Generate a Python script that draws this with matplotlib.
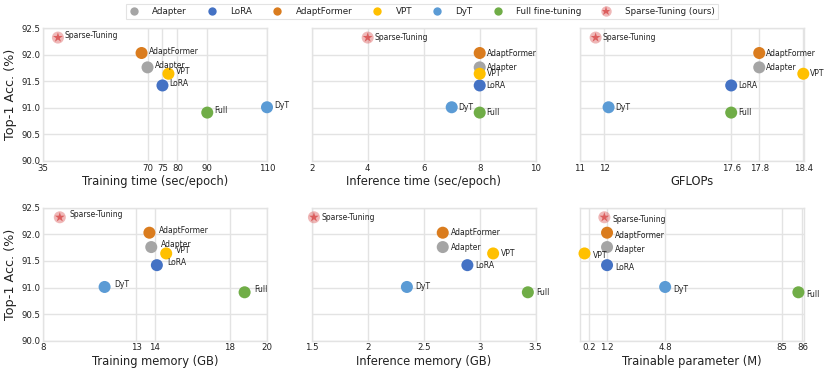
import numpy as np
import matplotlib
matplotlib.use("Agg")
import matplotlib.pyplot as plt
from matplotlib.lines import Line2D

plt.rcParams['font.family'] = ['DejaVu Sans']

methods = ["Adapter", "LoRA", "AdaptFormer", "VPT", "DyT", "Full", "Sparse-Tuning"]
legend_names = ["Adapter", "LoRA", "AdaptFormer", "VPT", "DyT", "Full fine-tuning", "Sparse-Tuning (ours)"]
point_labels = ["Adapter", "LoRA", "AdaptFormer", "VPT", "DyT", "Full", "Sparse-Tuning"]
colors = ["#A5A5A5", "#4472C4", "#DA7C1E", "#FFC000", "#5B9BD5", "#70AD47", "#D94F4F"]

acc = [91.76, 91.42, 92.03, 91.64, 91.01, 90.91, 92.32]

train_time = [70, 75, 68, 77, 110, 90, 40]
infer_time = [8, 8, 8, 8, 7, 8, 4]
gflops = [17.8, 17.6, 17.8, 18.4, 12.2, 17.6, 11.65]
train_mem = [13.8, 14.1, 13.7, 14.6, 11.3, 18.8, 8.9]
infer_mem = [2.67, 2.89, 2.67, 3.12, 2.35, 3.43, 1.52]
params = [1.2, 1.2, 1.2, 0.05, 4.8, 85.8, 1.05]

panels = [
    dict(x=train_time, xlabel="Training time (sec/epoch)", ticks=[35, 70, 75, 80, 90, 110],
         ticklabels=["35", "70", "75", "80", "90", "110"], xlim=(35, 110), dx=7, dy=2),
    dict(x=infer_time, xlabel="Inference time (sec/epoch)", ticks=[2, 4, 6, 8, 10],
         ticklabels=["2", "4", "6", "8", "10"], xlim=(2, 10), dx=7, dy=0),
    dict(x=gflops, xlabel="GFLOPs", ticks=[11, 12, 17.6, 17.8, 18.4],
         ticklabels=["11", "12", "17.6", "17.8", "18.4"], xlim=(11, 18.42), dx=7, dy=0,
         warp=([11, 12, 17.6, 17.8, 18.4, 18.6], [580, 604, 731, 759, 803, 810])),
    dict(x=train_mem, xlabel="Training memory (GB)", ticks=[8, 13, 14, 18, 20],
         ticklabels=["8", "13", "14", "18", "20"], xlim=(8, 20), dx=10, dy=2.5),
    dict(x=infer_mem, xlabel="Inference memory (GB)", ticks=[1.5, 2, 2.5, 3, 3.5],
         ticklabels=["1.5", "2", "2.5", "3", "3.5"], xlim=(1.5, 3.5), dx=8, dy=0),
    dict(x=params, xlabel="Trainable parameter (M)", ticks=[0.2, 1.2, 4.8, 85, 86],
         ticklabels=["0.2", "1.2", "4.8", "85", "86"], xlim=(-0.1, 86.2), dx=8, dy=-2.3,
         warp=([-0.1, 0.2, 1.2, 4.8, 85, 86, 86.5], [580, 589, 607, 665, 782, 802, 806])),
]

W, H = 830, 374
fig = plt.figure(figsize=(W / 100, H / 100), dpi=100)

lefts = [43, 311.7, 580]
tops = [28, 207.7]
aw, ah = 224, 133

grid_c = "#E3E3E3"
text_c = "#222222"

for i, p in enumerate(panels):
    r, c = divmod(i, 3)
    ax = fig.add_axes([lefts[c] / W, 1 - (tops[r] + ah) / H, aw / W, ah / H])
    if "warp" in p:
        xp, fp = p["warp"]
        xp = np.array(xp, float); fp = np.array(fp, float)
        ax.set_xscale("function", functions=(lambda v, xp=xp, fp=fp: np.interp(v, xp, fp),
                                             lambda v, xp=xp, fp=fp: np.interp(v, fp, xp)))
    ax.set_xlim(*p["xlim"])
    ax.set_ylim(90.0, 92.5)
    ax.set_yticks([90.0, 90.5, 91.0, 91.5, 92.0, 92.5])
    ax.set_xticks(p["ticks"])
    ax.set_xticklabels(p["ticklabels"])
    ax.minorticks_off()
    ax.grid(True, color=grid_c, linewidth=1.0)
    ax.set_axisbelow(True)
    for s in ax.spines.values():
        s.set_color(grid_c)
        s.set_linewidth(1.0)
    ax.tick_params(length=0, labelsize=6.2, colors=text_c, pad=2)
    if c == 0:
        ax.set_ylabel("Top-1 Acc. (%)", fontsize=9.2, color=text_c, labelpad=3)
    else:
        ax.set_yticklabels([])
    ax.set_xlabel(p["xlabel"], fontsize=8.3, color=text_c, labelpad=1.5)

    for j, m in enumerate(methods):
        xv, yv = p["x"][j], acc[j]
        if m == "Sparse-Tuning":
            ax.scatter([xv], [yv], s=75, color=colors[j], alpha=0.4, edgecolors="none",
                       zorder=3, clip_on=False)
            ax.scatter([xv], [yv], s=55, marker="*", color=colors[j], alpha=0.85,
                       edgecolors="none", zorder=4, clip_on=False)
        else:
            ax.scatter([xv], [yv], s=75, color=colors[j], edgecolors="none",
                       zorder=3, clip_on=False)
        ax.annotate(point_labels[j], (xv, yv), xytext=(p["dx"] * 0.72, p["dy"] * 0.72),
                    textcoords="offset points", ha="left", va="center",
                    fontsize=5.5, color=text_c, zorder=5, annotation_clip=False)

handles = []
for j, m in enumerate(methods):
    if m == "Sparse-Tuning":
        handles.append((Line2D([], [], marker="o", linestyle="none", markersize=7.5,
                               color=colors[j], alpha=0.4, markeredgewidth=0),
                        Line2D([], [], marker="*", linestyle="none", markersize=6.5,
                               color=colors[j], alpha=0.85, markeredgewidth=0)))
    else:
        handles.append(Line2D([], [], marker="o", linestyle="none", markersize=6,
                              color=colors[j], markeredgewidth=0))

leg = fig.legend(handles, legend_names, loc="center", bbox_to_anchor=(422 / W, 1 - 11.5 / H),
                 ncol=7, fontsize=6.3, frameon=True, handletextpad=1.6, columnspacing=2.35,
                 borderpad=0.35, handlelength=1.0, fancybox=False)
leg.get_frame().set_edgecolor("#DDDDDD")
leg.get_frame().set_linewidth(0.8)
for t in leg.get_texts():
    t.set_color(text_c)

fig.savefig("out.png", dpi=100)
